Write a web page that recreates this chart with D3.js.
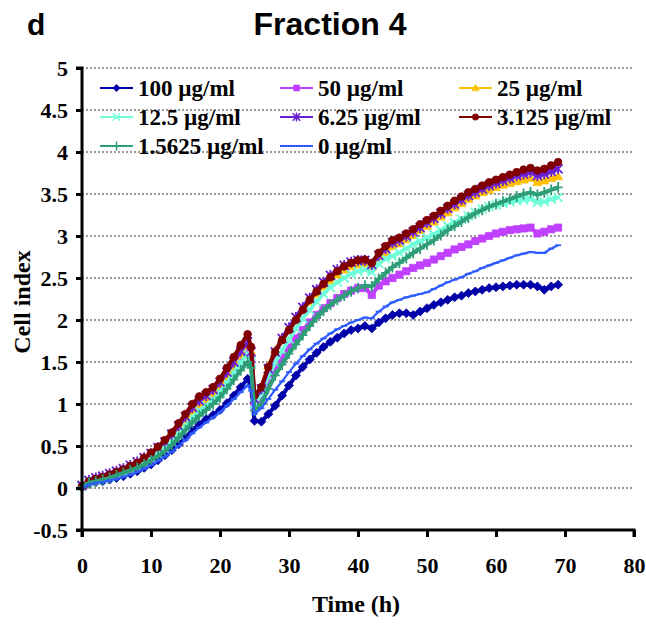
<!DOCTYPE html>
<html><head><meta charset="utf-8">
<script src="https://cdn.jsdelivr.net/npm/d3@7"></script>
<style>body{margin:0;background:#fff}svg{display:block}</style>
</head><body>
<svg id="c" width="646" height="625"></svg>
<script>
const times = [0,1,2,3,4,5,6,7,8,9,10,11,12,13,14,15,16,17,18,19,20,21,22,23,24,24.5,25,26,27,28,29,30,31,32,33,34,35,36,37,38,39,40,41,42,43,44,45,46,47,48,49,50,51,52,53,54,55,56,57,58,59,60,61,62,63,64,65,66,67,68,69];
const s100 = [0.01,0.05,0.07,0.08,0.1,0.12,0.14,0.17,0.2,0.24,0.28,0.33,0.39,0.45,0.52,0.6,0.69,0.76,0.82,0.87,0.93,1.01,1.1,1.2,1.3,1.22,0.8,0.79,0.88,0.98,1.1,1.22,1.34,1.44,1.53,1.61,1.68,1.74,1.79,1.84,1.88,1.9,1.93,1.9,1.97,2.02,2.06,2.08,2.08,2.06,2.1,2.14,2.18,2.21,2.24,2.27,2.29,2.32,2.34,2.36,2.38,2.39,2.4,2.41,2.42,2.42,2.42,2.4,2.36,2.4,2.42];
const s50 = [0.02,0.07,0.09,0.11,0.13,0.16,0.19,0.22,0.26,0.3,0.35,0.41,0.47,0.55,0.64,0.74,0.84,0.93,1.0,1.07,1.15,1.26,1.38,1.5,1.6,1.52,0.98,1.08,1.27,1.43,1.55,1.67,1.78,1.88,1.97,2.06,2.14,2.2,2.26,2.31,2.35,2.38,2.38,2.3,2.41,2.46,2.5,2.54,2.58,2.62,2.65,2.68,2.72,2.76,2.8,2.84,2.87,2.9,2.94,2.97,3.0,3.03,3.05,3.07,3.08,3.09,3.1,3.03,3.05,3.08,3.1];
const s25 = [0.02,0.07,0.1,0.12,0.15,0.18,0.21,0.24,0.28,0.33,0.38,0.45,0.52,0.6,0.7,0.8,0.91,1.0,1.06,1.13,1.22,1.33,1.46,1.59,1.71,1.63,1.05,1.2,1.45,1.64,1.79,1.9,2.01,2.12,2.22,2.31,2.4,2.47,2.54,2.6,2.64,2.66,2.67,2.63,2.73,2.8,2.88,2.91,2.96,3.01,3.07,3.12,3.17,3.23,3.28,3.34,3.39,3.44,3.48,3.52,3.55,3.58,3.61,3.63,3.65,3.67,3.69,3.64,3.66,3.69,3.71];
const s12 = [0.02,0.07,0.09,0.11,0.13,0.16,0.19,0.22,0.26,0.3,0.35,0.41,0.47,0.55,0.64,0.74,0.84,0.92,0.98,1.05,1.14,1.25,1.37,1.49,1.6,1.5,1.0,1.12,1.33,1.5,1.64,1.77,1.9,2.02,2.12,2.22,2.31,2.39,2.45,2.5,2.55,2.58,2.6,2.57,2.67,2.73,2.76,2.8,2.85,2.9,2.94,2.98,3.02,3.07,3.12,3.16,3.2,3.24,3.28,3.32,3.35,3.37,3.39,3.41,3.42,3.43,3.44,3.4,3.41,3.44,3.46];
const s6 = [0.03,0.09,0.12,0.14,0.17,0.2,0.23,0.27,0.31,0.36,0.41,0.48,0.55,0.64,0.74,0.85,0.96,1.04,1.1,1.17,1.26,1.38,1.5,1.63,1.74,1.62,1.06,1.18,1.42,1.62,1.78,1.91,2.03,2.15,2.26,2.36,2.45,2.53,2.6,2.65,2.69,2.71,2.71,2.66,2.77,2.85,2.92,2.95,3.0,3.05,3.1,3.16,3.21,3.27,3.33,3.38,3.43,3.48,3.52,3.56,3.6,3.63,3.66,3.69,3.72,3.74,3.76,3.72,3.74,3.77,3.8];
const s3 = [0.02,0.08,0.11,0.13,0.16,0.19,0.22,0.26,0.3,0.36,0.42,0.49,0.57,0.66,0.77,0.88,1.0,1.09,1.14,1.2,1.3,1.43,1.56,1.7,1.83,1.68,1.1,1.2,1.44,1.62,1.76,1.88,2.0,2.12,2.24,2.34,2.43,2.51,2.58,2.64,2.68,2.71,2.72,2.68,2.8,2.88,2.95,2.98,3.03,3.08,3.14,3.19,3.24,3.3,3.36,3.42,3.47,3.52,3.56,3.6,3.64,3.67,3.7,3.73,3.76,3.79,3.81,3.78,3.8,3.84,3.88];
const s1 = [0.01,0.06,0.08,0.1,0.12,0.15,0.18,0.21,0.24,0.28,0.33,0.38,0.44,0.51,0.6,0.69,0.78,0.86,0.93,1.0,1.08,1.18,1.29,1.4,1.5,1.43,0.92,1.0,1.18,1.34,1.47,1.6,1.71,1.82,1.93,2.03,2.11,2.18,2.24,2.29,2.34,2.38,2.41,2.4,2.49,2.56,2.63,2.68,2.74,2.8,2.85,2.9,2.95,3.01,3.07,3.12,3.17,3.22,3.27,3.31,3.35,3.38,3.41,3.44,3.47,3.5,3.52,3.49,3.52,3.55,3.58];
const s0 = [0.0,0.04,0.06,0.07,0.09,0.11,0.13,0.16,0.19,0.23,0.27,0.32,0.37,0.43,0.5,0.57,0.65,0.72,0.78,0.84,0.9,0.98,1.06,1.14,1.22,1.16,0.88,0.95,1.06,1.17,1.27,1.38,1.48,1.57,1.65,1.72,1.78,1.84,1.89,1.93,1.97,2.0,2.03,2.02,2.1,2.16,2.21,2.24,2.27,2.29,2.31,2.33,2.37,2.41,2.45,2.48,2.51,2.55,2.58,2.62,2.65,2.68,2.71,2.74,2.77,2.79,2.81,2.8,2.8,2.85,2.89];
const seriesNames = ["100 µg/ml","50 µg/ml","25 µg/ml","12.5 µg/ml","6.25 µg/ml","3.125 µg/ml","1.5625 µg/ml","0 µg/ml"];
const seriesValues = [s100,s50,s25,s12,s6,s3,s1,s0];
const seriesColors = ["#0000a8","#c040ff","#ffc000","#70ffd8","#6a1fd0","#800000","#2e9e78","#2f5cff"];
const seriesMarkers = ["diamond","square","triangle","x","star","circle","plus","dash"];
const xTicks = [0,10,20,30,40,50,60,70,80];
const yTicks = [-0.5,0,0.5,1,1.5,2,2.5,3,3.5,4,4.5,5];
const yTickLabels = ["-0.5","0","0.5","1","1.5","2","2.5","3","3.5","4","4.5","5"];
const title = "Fraction 4", panel = "d", xTitle = "Time (h)", yTitle = "Cell index";

const svg = d3.select("#c");
const x = d3.scaleLinear().domain([0,80]).range([82,634]);
const y = d3.scaleLinear().domain([-0.5,5]).range([530,68]);
const serif = "'Liberation Serif','Times New Roman',serif";
const sans = "'Liberation Sans',Arial,sans-serif";

// gridlines
svg.append("g").selectAll("line").data(yTicks.filter(v=>v>-0.5)).join("line")
  .attr("x1",x(0)).attr("x2",x(80)).attr("y1",d=>y(d)).attr("y2",d=>y(d))
  .attr("stroke","#333").attr("stroke-width",1).attr("stroke-dasharray","2,2");

function markerPath(type, s){
  const p = d3.path();
  switch(type){
    case "diamond": p.moveTo(0,-s); p.lineTo(s,0); p.lineTo(0,s); p.lineTo(-s,0); p.closePath(); break;
    case "square": p.rect(-s*0.8,-s*0.8,s*1.6,s*1.6); break;
    case "triangle": p.moveTo(0,-s); p.lineTo(s,s*0.75); p.lineTo(-s,s*0.75); p.closePath(); break;
    case "circle": p.arc(0,0,s*0.85,0,2*Math.PI); break;
    case "x": p.moveTo(-s,-s); p.lineTo(s,s); p.moveTo(-s,s); p.lineTo(s,-s); break;
    case "star": p.moveTo(-s,-s); p.lineTo(s,s); p.moveTo(-s,s); p.lineTo(s,-s); p.moveTo(0,-s*1.2); p.lineTo(0,s*1.2); break;
    case "plus": p.moveTo(-s,0); p.lineTo(s,0); p.moveTo(0,-s*1.2); p.lineTo(0,s*1.2); break;
    case "dash": p.moveTo(-s,0); p.lineTo(s,0); break;
  }
  return p.toString();
}
const filled = t => ["diamond","square","triangle","circle"].includes(t);

const line = d3.line().x(d=>x(d[0])).y(d=>y(d[1]));
const plot = svg.append("g");
seriesValues.forEach((vals,i)=>{
  const pts = times.map((t,j)=>[t,vals[j]]);
  const g = plot.append("g");
  const col = seriesColors[i], mk = seriesMarkers[i];
  g.append("path").datum(pts).attr("d",line).attr("fill","none")
    .attr("stroke",col).attr("stroke-width",mk==="dash"?2.2:4).attr("stroke-linejoin","round");
  g.selectAll("path.m").data(pts).join("path").attr("class","m")
    .attr("transform",d=>`translate(${x(d[0])},${y(d[1])})`)
    .attr("d",markerPath(mk, mk==="dash"?3:4.5))
    .attr("fill",filled(mk)?col:"none").attr("stroke",col)
    .attr("stroke-width",filled(mk)?0.8:1.8);
});

// axes
const yAxis = svg.append("g").attr("transform",`translate(${x(0)},0)`)
  .call(d3.axisLeft(y).tickValues(yTicks).tickSize(6).tickFormat((d,i)=>yTickLabels[i]));
const xAxis = svg.append("g").attr("transform",`translate(0,${y(-0.5)})`)
  .call(d3.axisBottom(x).tickValues(xTicks).tickSize(7).tickPadding(20));
[yAxis,xAxis].forEach(a=>{
  a.select(".domain").attr("stroke","#000").attr("stroke-width",3);
  a.selectAll(".tick line").attr("stroke","#000").attr("stroke-width",3);
  a.selectAll("text").attr("font-family",serif).attr("font-weight","bold").attr("font-size",22).attr("fill","#000");
});
yAxis.select(".domain").attr("d",`M-6,${y(5)}H0V${y(-0.5)}H-6`);
yAxis.selectAll("text").attr("x",-14);
xAxis.select(".domain").attr("d",`M${x(0)},7V0H${x(80)}V7`);

// titles
svg.append("text").attr("x",330).attr("y",35).attr("text-anchor","middle")
  .attr("font-family",sans).attr("font-weight","bold").attr("font-size",32).text(title);
svg.append("text").attr("x",27).attr("y",35)
  .attr("font-family",sans).attr("font-weight","bold").attr("font-size",30).text(panel);
svg.append("text").attr("x",356).attr("y",612).attr("text-anchor","middle")
  .attr("font-family",serif).attr("font-weight","bold").attr("font-size",24).text(xTitle);
svg.append("text").attr("transform","translate(30,302) rotate(-90)").attr("text-anchor","middle")
  .attr("font-family",serif).attr("font-weight","bold").attr("font-size",24).text(yTitle);

// legend
const legend = svg.append("g");
const colX = [100,280,459], rowY = [88,117,146];
seriesNames.forEach((n,i)=>{
  const cx = colX[i%3], cy = rowY[Math.floor(i/3)];
  const g = legend.append("g").attr("transform",`translate(${cx},${cy})`);
  g.append("line").attr("x1",0).attr("x2",33).attr("stroke",seriesColors[i]).attr("stroke-width",2);
  const mk = seriesMarkers[i];
  g.append("path").attr("transform","translate(16.5,0)").attr("d",markerPath(mk, mk==="dash"?3:3.8))
    .attr("fill",filled(mk)?seriesColors[i]:"none").attr("stroke",seriesColors[i]).attr("stroke-width",filled(mk)?0.5:1.5);
  g.append("text").attr("x",38).attr("y",8).attr("font-family",serif).attr("font-weight","bold")
    .attr("font-size",23).text(n);
});
</script>
</body></html>
